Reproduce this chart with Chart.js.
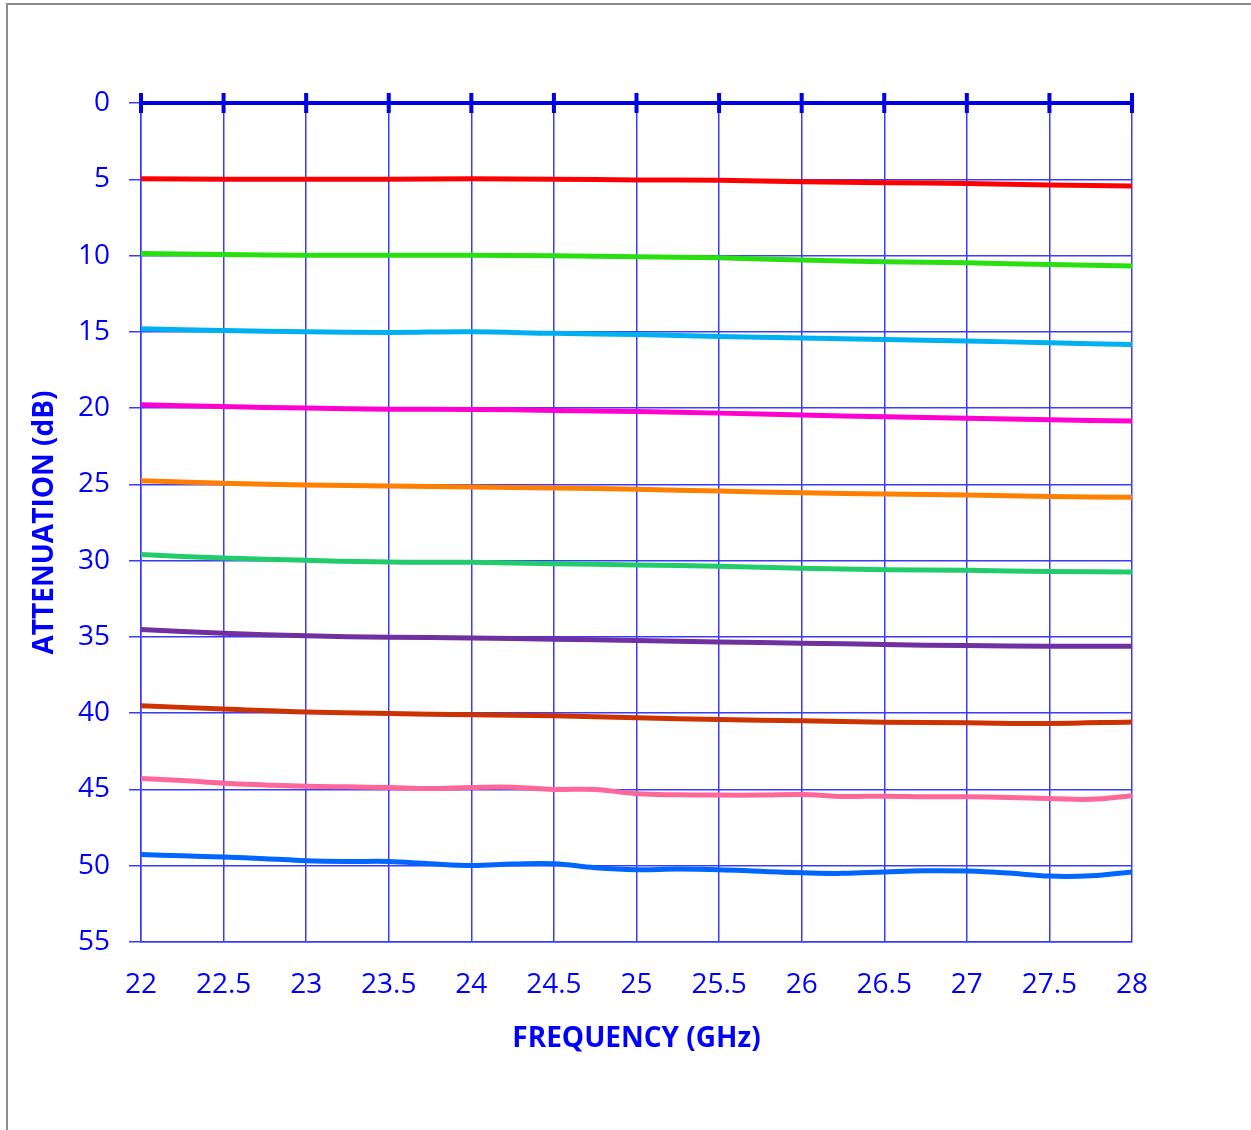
<!DOCTYPE html>
<html lang="en">
<head>
  <meta charset="UTF-8">
  <title>Attenuation vs Frequency</title>
  <script src="https://cdn.jsdelivr.net/npm/chart.js"></script>
  <style>
    html, body {
      margin: 0;
      padding: 0;
      background: #ffffff;
      overflow: hidden;
    }
    #frame {
      position: absolute;
      left: 6px;
      top: 3px;
      width: 1400px;
      height: 1300px;
      border-left: 2px solid #8c8c8c;
      border-top: 2px solid #8c8c8c;
      pointer-events: none;
    }
    #chart {
      position: absolute;
      left: 0;
      top: 0;
    }
  </style>
</head>
<body>
  <canvas id="chart" width="1251" height="1130"></canvas>
  <div id="frame"></div>

  <script>
    // frequency points (GHz)
    const freqs = [22, 22.5, 23, 23.5, 24, 24.5, 25, 25.5, 26, 26.5, 27, 27.5, 28];
    const freqsFine = [22, 22.25, 22.5, 22.75, 23, 23.25, 23.5, 23.75, 24, 24.25, 24.5, 24.75,
                       25, 25.25, 25.5, 25.75, 26, 26.25, 26.5, 26.75, 27, 27.25, 27.5, 27.75, 28];

    // attenuation (dB) per setting
    const att5  = [4.96, 5.0, 5.0, 5.0, 4.96, 5.0, 5.04, 5.07, 5.17, 5.22, 5.28, 5.37, 5.44];
    const att10 = [9.87, 9.93, 9.98, 9.98, 9.98, 10.02, 10.08, 10.15, 10.3, 10.4, 10.48, 10.59, 10.68];
    const att15 = [14.8, 14.91, 15.0, 15.04, 15.0, 15.1, 15.18, 15.3, 15.41, 15.5, 15.6, 15.72, 15.83];
    const att20 = [19.78, 19.9, 20.0, 20.07, 20.09, 20.15, 20.23, 20.33, 20.46, 20.57, 20.66, 20.76, 20.85];
    const att25 = [24.76, 24.93, 25.04, 25.11, 25.17, 25.24, 25.32, 25.44, 25.55, 25.63, 25.7, 25.79, 25.85];
    const att30 = [29.6, 29.83, 29.98, 30.09, 30.11, 30.2, 30.28, 30.37, 30.5, 30.59, 30.63, 30.72, 30.74];
    const att35 = [34.52, 34.76, 34.93, 35.02, 35.07, 35.15, 35.23, 35.33, 35.41, 35.5, 35.57, 35.61, 35.61];
    const att40 = [39.52, 39.72, 39.93, 40.02, 40.11, 40.17, 40.3, 40.41, 40.5, 40.59, 40.63, 40.68, 40.57];
    const att45 = [44.28, 44.42, 44.59, 44.7, 44.79, 44.83, 44.87, 44.94, 44.87, 44.85, 45.0, 45.0,
                   45.28, 45.35, 45.37, 45.37, 45.33, 45.46, 45.44, 45.48, 45.48, 45.52, 45.59, 45.65, 45.41];
    const att50 = [49.26, 49.35, 49.43, 49.54, 49.67, 49.72, 49.72, 49.87, 49.98, 49.89, 49.87, 50.13,
                   50.26, 50.22, 50.26, 50.37, 50.46, 50.5, 50.41, 50.33, 50.35, 50.48, 50.68, 50.66, 50.41];

    const yTicks = [0, 5, 10, 15, 20, 25, 30, 35, 40, 45, 50, 55];

    const series = [
      { xs: freqs, ys: att5,  color: '#ff0000' },
      { xs: freqs, ys: att10, color: '#28e010' },
      { xs: freqs, ys: att15, color: '#00b0f0' },
      { xs: freqs, ys: att20, color: '#ff00d0' },
      { xs: freqs, ys: att25, color: '#ff8000' },
      { xs: freqs, ys: att30, color: '#22cc6a' },
      { xs: freqs, ys: att35, color: '#7030a0' },
      { xs: freqs, ys: att40, color: '#cc3300' },
      { xs: freqsFine, ys: att45, color: '#ff6699' },
      { xs: freqsFine, ys: att50, color: '#0066ff' }
    ];

    const blue = '#0000ff';
    const gridBlue = '#3b3bff';
    const font = '"Open Sans", "Liberation Sans", sans-serif';

    // thick axis line along 0 dB with crossing tick marks
    const topAxis = {
      id: 'topAxis',
      afterDatasetsDraw(chart) {
        const { ctx, chartArea, scales: { x, y } } = chart;
        const y0 = y.getPixelForValue(0);
        ctx.save();
        ctx.strokeStyle = '#0000e6';
        ctx.lineWidth = 4;
        ctx.beginPath();
        ctx.moveTo(chartArea.left - 1, y0);
        ctx.lineTo(chartArea.right + 1, y0);
        x.ticks.forEach(t => {
          const px = x.getPixelForValue(t.value);
          ctx.moveTo(px, y0 - 10);
          ctx.lineTo(px, y0 + 10);
        });
        ctx.stroke();
        ctx.restore();
      }
    };

    new Chart(document.getElementById('chart'), {
      type: 'line',
      data: {
        datasets: series.map(s => ({
          data: s.xs.map((f, i) => ({ x: f, y: s.ys[i] })),
          borderColor: s.color,
          backgroundColor: s.color,
          borderWidth: 5,
          pointRadius: 0,
          tension: 0.4,
          fill: false
        }))
      },
      options: {
        responsive: false,
        animation: false,
        layout: { padding: { left: 0, top: 103, right: 119, bottom: 58 } },
        plugins: {
          legend: { display: false },
          tooltip: { enabled: false }
        },
        scales: {
          x: {
            type: 'linear',
            min: 22,
            max: 28,
            afterFit: s => { s.height = 130; },
            ticks: {
              stepSize: 0.5,
              color: blue,
              font: { family: font, size: 28 },
              padding: 26,
              maxRotation: 0,
              callback: v => String(v)
            },
            grid: { color: gridBlue, lineWidth: 1.5, drawTicks: false },
            border: { color: gridBlue, width: 1.5 },
            title: {
              display: true,
              text: 'FREQUENCY (GHz)',
              color: blue,
              font: { family: font, size: 28, weight: 'bold' },
              padding: { top: 0, bottom: 16 }
            }
          },
          y: {
            type: 'linear',
            reverse: true,
            min: 0,
            max: 55,
            afterFit: s => { s.width = 141; },
            afterBuildTicks: s => { s.ticks = yTicks.map(v => ({ value: v })); },
            ticks: {
              color: blue,
              font: { family: font, size: 28 },
              padding: 19
            },
            grid: { color: gridBlue, lineWidth: 1.5, drawTicks: true, tickLength: 12 },
            border: { color: gridBlue, width: 1.5 },
            title: {
              display: true,
              text: 'ATTENUATION (dB)',
              color: blue,
              font: { family: font, size: 28, weight: 'bold' },
              padding: { top: 28, bottom: 0 }
            }
          }
        }
      },
      plugins: [topAxis]
    });
  </script>
</body>
</html>
